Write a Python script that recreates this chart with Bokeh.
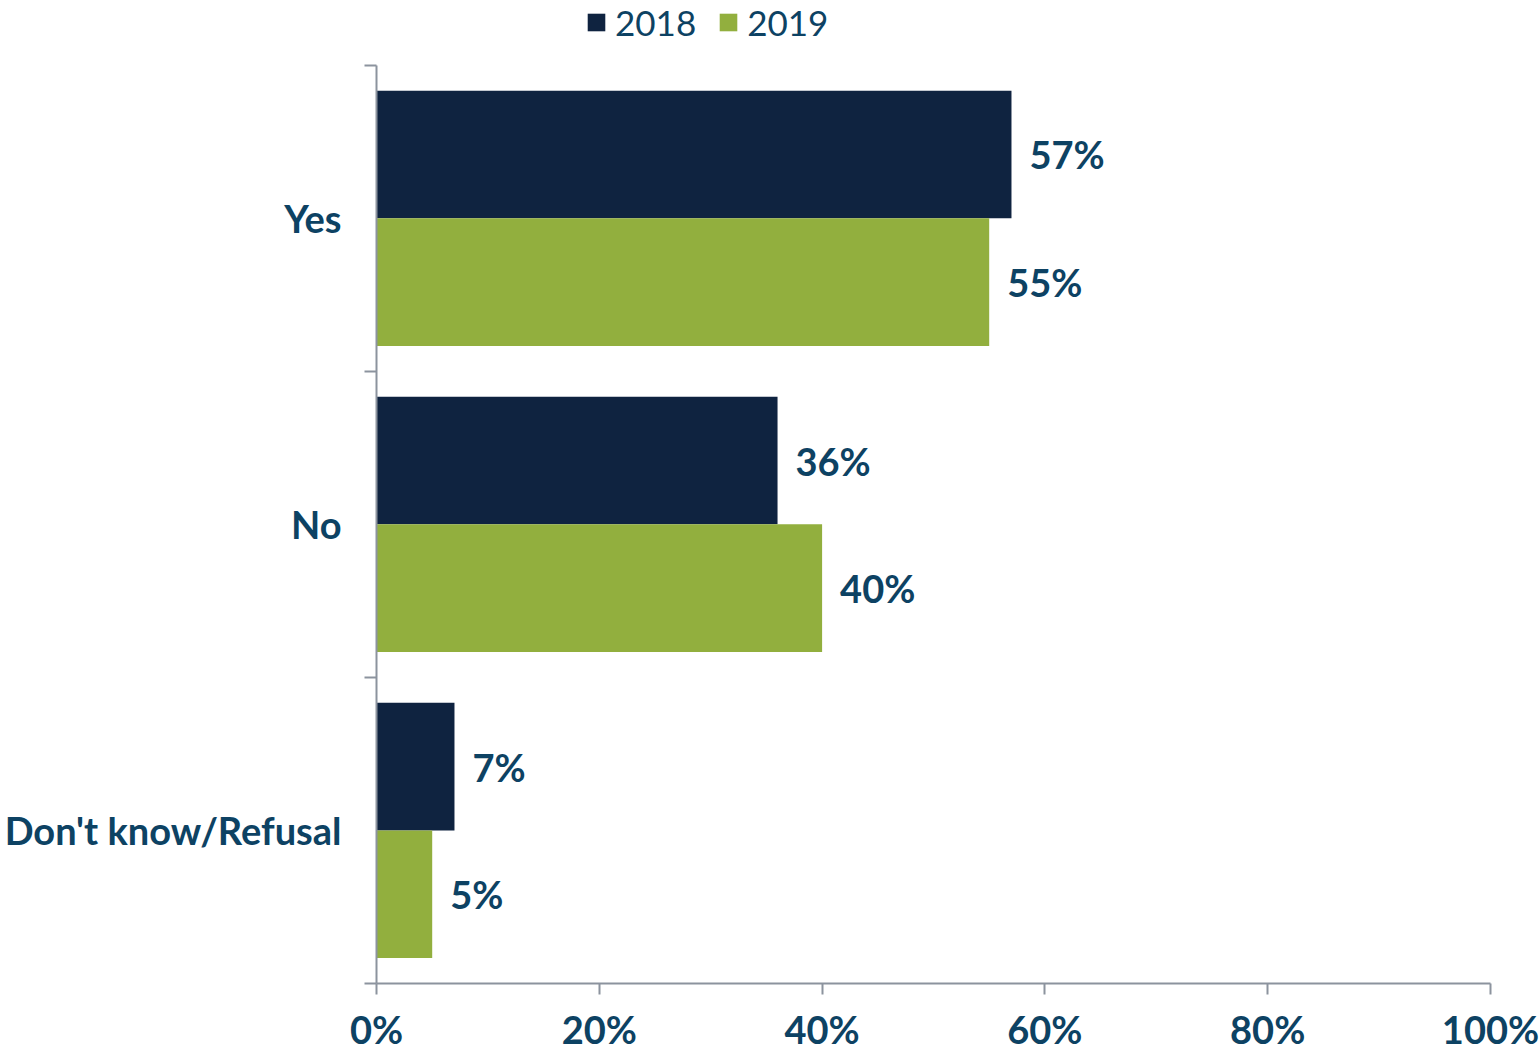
from bokeh.plotting import figure
from bokeh.models import ColumnDataSource, Range1d, FixedTicker, PrintfTickFormatter, Legend, LegendItem
from bokeh.core.properties import value
from bokeh.embed import file_html
from bokeh.resources import INLINE

categories = ["Yes", "No", "Don't know/Refusal"]
series_names = ["2018", "2019"]
values_2018 = [57, 36, 7]
values_2019 = [55, 40, 5]
x_ticks = [0, 20, 40, 60, 80, 100]

NAVY = "#0F2340"
GREEN = "#92AF3E"
TEXT = "#0D4263"
AXIS = "#8C939E"
FONT = "Lato"
FS = "38px"
BAR_H = 0.417

n = len(categories)
centers = [n - i - 0.5 for i in range(n)]
y2018 = [c + BAR_H / 2 for c in centers]
y2019 = [c - BAR_H / 2 for c in centers]

src18 = ColumnDataSource(dict(y=y2018, v=values_2018, lab=[f"{v}%" for v in values_2018]))
src19 = ColumnDataSource(dict(y=y2019, v=values_2019, lab=[f"{v}%" for v in values_2019]))

# frame reaches the top edge so the legend can sit above the bars; axis is bounded to categories
y_top = n * 987 / 922
p = figure(width=1539, height=1054, output_backend="svg", toolbar_location=None,
           x_range=Range1d(0, 100), y_range=Range1d(0, y_top),
           min_border_left=376, min_border_right=49, min_border_top=0, min_border_bottom=67)
p.outline_line_color = None
p.grid.visible = False
p.background_fill_color = "white"
p.border_fill_color = "white"

r18 = p.hbar(y="y", right="v", left=0, height=BAR_H, source=src18, fill_color=NAVY, line_color=None)
r19 = p.hbar(y="y", right="v", left=0, height=BAR_H, source=src19, fill_color=GREEN, line_color=None)

for src in (src18, src19):
    p.text(x="v", y="y", text="lab", source=src, x_offset=18, text_baseline="middle", text_align="left",
           text_font=value(FONT), text_font_style="bold", text_font_size=FS, text_color=TEXT)

# x axis
xa = p.xaxis[0]
xa.ticker = FixedTicker(ticks=x_ticks)
xa.formatter = PrintfTickFormatter(format="%d%%")
xa.axis_line_color = AXIS
xa.axis_line_width = 2
xa.major_tick_line_color = AXIS
xa.major_tick_line_width = 2
xa.major_tick_out = 11
xa.major_tick_in = 0
xa.minor_tick_line_color = None
xa.major_label_text_font = FONT
xa.major_label_text_font_style = "bold"
xa.major_label_text_font_size = FS
xa.major_label_text_color = TEXT
xa.major_label_standoff = 11

# y axis: labels at category centers, ticks (minor) at category boundaries
ya = p.yaxis[0]
ya.bounds = (0, n)
ya.ticker = FixedTicker(ticks=centers, minor_ticks=list(range(n + 1)))
ya.major_label_overrides = {c: cat for c, cat in zip(centers, categories)}
ya.axis_line_color = AXIS
ya.axis_line_width = 2
ya.major_tick_line_color = None
ya.major_tick_out = 0
ya.major_tick_in = 0
ya.minor_tick_line_color = AXIS
ya.minor_tick_line_width = 2
ya.minor_tick_out = 12
ya.minor_tick_in = 0
ya.major_label_text_font = FONT
ya.major_label_text_font_style = "bold"
ya.major_label_text_font_size = FS
ya.major_label_text_color = TEXT
ya.major_label_standoff = 23

legend = Legend(items=[LegendItem(label=series_names[0], renderers=[r18]),
                       LegendItem(label=series_names[1], renderers=[r19])],
                orientation="horizontal", location=(209, 940),
                glyph_width=22, glyph_height=22, label_standoff=8, spacing=21,
                padding=0, margin=0, border_line_color=None, background_fill_alpha=0,
                label_text_font=FONT, label_text_font_size="35px", label_text_color=TEXT)
p.add_layout(legend, "center")

open("out.html", "w").write(file_html(p, INLINE))
